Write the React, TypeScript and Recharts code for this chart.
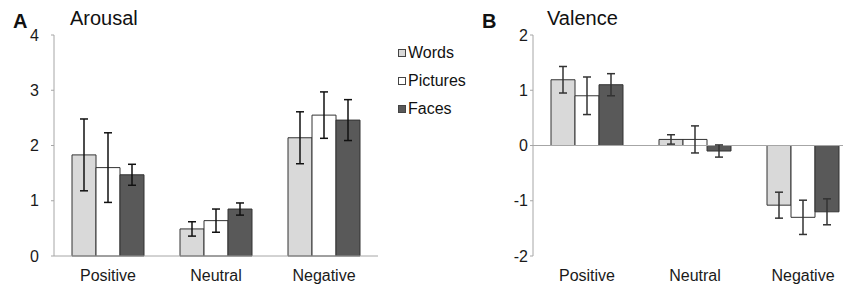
import React from 'react';
import {
  BarChart,
  Bar,
  XAxis,
  YAxis,
  ErrorBar,
  ReferenceLine
} from 'recharts';

const categories = ['Positive', 'Neutral', 'Negative'];

// Arousal (panel A)
const arousalWords = [1.83, 0.49, 2.14];
const arousalWordsErr = [0.65, 0.13, 0.47];
const arousalPictures = [1.6, 0.64, 2.55];
const arousalPicturesErr = [0.63, 0.21, 0.42];
const arousalFaces = [1.47, 0.85, 2.46];
const arousalFacesErr = [0.19, 0.11, 0.37];
const arousalTicks = [0, 1, 2, 3, 4];

// Valence (panel B)
const valenceWords = [1.19, 0.11, -1.08];
const valenceWordsErr = [0.24, 0.085, 0.235];
const valencePictures = [0.9, 0.11, -1.3];
const valencePicturesErr = [0.34, 0.245, 0.31];
const valenceFaces = [1.1, -0.1, -1.2];
const valenceFacesErr = [0.2, 0.11, 0.235];
const valenceTicks = [-2, -1, 0, 1, 2];

const seriesNames = ['Words', 'Pictures', 'Faces'];
const FILLS = ['#d9d9d9', '#ffffff', '#595959'];
const AXIS = '#a6a6a6';
const FONT = '"Liberation Sans", Arial, sans-serif';

function buildRows(w: number[], we: number[], p: number[], pe: number[], f: number[], fe: number[]) {
  return categories.map((name, i) => ({
    name,
    words: w[i],
    wordsErr: we[i],
    pictures: p[i],
    picturesErr: pe[i],
    faces: f[i],
    facesErr: fe[i]
  }));
}

const arousalData = buildRows(arousalWords, arousalWordsErr, arousalPictures, arousalPicturesErr, arousalFaces, arousalFacesErr);
const valenceData = buildRows(valenceWords, valenceWordsErr, valencePictures, valencePicturesErr, valenceFaces, valenceFacesErr);

const tickStyle = { fontSize: 16, fill: '#1a1a1a', fontFamily: FONT };

function Bars({ errColor }: { errColor: string }) {
  const keys = ['words', 'pictures', 'faces'];
  return keys.map((k, i) => (
    <Bar
      key={k}
      dataKey={k}
      name={seriesNames[i]}
      fill={FILLS[i]}
      stroke="#333"
      strokeWidth={1}
      barSize={24}
      isAnimationActive={false}
    >
      <ErrorBar dataKey={`${k}Err`} width={4} stroke={errColor} strokeWidth={1.5} direction="y" />
    </Bar>
  ));
}

export default function App() {
  return (
    <div
      style={{
        position: 'absolute',
        left: 0,
        top: 0,
        width: 843,
        height: 288,
        overflow: 'hidden',
        background: '#fff',
        fontFamily: FONT
      }}
    >
      {/* Panel A */}
      <div style={{ position: 'absolute', left: 0, top: 0 }}>
        <BarChart width={400} height={288} data={arousalData} barGap={0} margin={{ top: 35, right: 22, left: 0, bottom: 2 }}>
          <XAxis
            dataKey="name"
            height={30}
            stroke={AXIS}
            tickLine={false}
            tick={tickStyle}
            tickMargin={8}
          />
          <YAxis
            width={54}
            domain={[0, 4]}
            ticks={arousalTicks}
            stroke={AXIS}
            tickSize={3}
            tickMargin={12}
            tick={tickStyle}
          />
          {Bars({ errColor: '#111' })}
        </BarChart>
      </div>

      {/* Panel B */}
      <div style={{ position: 'absolute', left: 423, top: 0 }}>
        <BarChart width={460} height={288} data={valenceData} barGap={0} margin={{ top: 35, right: 26, left: 0, bottom: 2 }}>
          <XAxis
            dataKey="name"
            height={30}
            axisLine={false}
            tickLine={false}
            tick={tickStyle}
            tickMargin={8}
          />
          <YAxis
            width={110}
            domain={[-2, 2]}
            ticks={valenceTicks}
            stroke={AXIS}
            tickSize={3}
            tickMargin={2}
            tick={tickStyle}
          />
          <ReferenceLine y={0} stroke={AXIS} strokeWidth={1} />
          {Bars({ errColor: '#333' })}
        </BarChart>
      </div>

      {/* Titles */}
      <div style={{ position: 'absolute', left: 13, top: 11, fontSize: 20, lineHeight: '20px', fontWeight: 'bold', color: '#111' }}>A</div>
      <div style={{ position: 'absolute', left: 70, top: 8, fontSize: 20, lineHeight: '20px', color: '#111' }}>Arousal</div>
      <div style={{ position: 'absolute', left: 482, top: 11, fontSize: 20, lineHeight: '20px', fontWeight: 'bold', color: '#111' }}>B</div>
      <div style={{ position: 'absolute', left: 547, top: 8, fontSize: 20, lineHeight: '20px', color: '#111' }}>Valence</div>

      {/* Legend */}
      <div style={{ position: 'absolute', left: 398, top: 45 }}>
        {seriesNames.map((n, i) => (
          <div key={n} style={{ display: 'flex', alignItems: 'center', height: 16, marginBottom: 12 }}>
            <div style={{ width: 6, height: 6, border: '1px solid #444', background: FILLS[i], marginRight: 2 }} />
            <span style={{ fontSize: 16, lineHeight: '16px', color: '#111' }}>{n}</span>
          </div>
        ))}
      </div>
    </div>
  );
}
